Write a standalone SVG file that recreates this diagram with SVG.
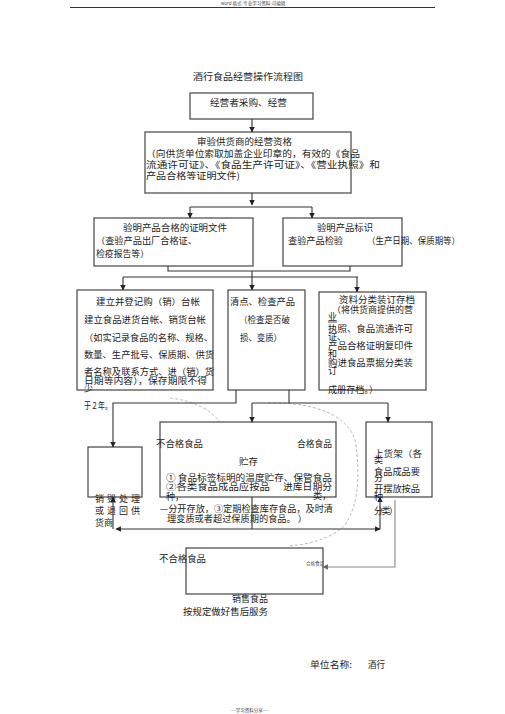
<svg xmlns="http://www.w3.org/2000/svg" width="505" height="714" viewBox="0 0 505 714">
<defs>
<marker id="ah" viewBox="0 0 10 10" refX="9" refY="5" markerWidth="5" markerHeight="5" orient="auto"><path d="M0,0 L10,5 L0,10 z" fill="#222"/></marker>
<marker id="ahg" viewBox="0 0 10 10" refX="9" refY="5" markerWidth="5" markerHeight="5" orient="auto"><path d="M0,0 L10,5 L0,10 z" fill="#666"/></marker>
<style>
text{font-family:"Noto Sans CJK SC","Liberation Sans",sans-serif;font-size:9px;fill:#222}
.box{fill:#fff;stroke:#444;stroke-width:1.2}
.c{fill:none;stroke:#333;stroke-width:1.1}
.g{fill:none;stroke:#888;stroke-width:1.1}
.d{fill:none;stroke:#bbb;stroke-width:1;stroke-dasharray:3,2}
.tiny{font-size:4.5px;fill:#444}
</style>
</defs>
<rect width="505" height="714" fill="#fff"/>
<text class="tiny" x="253" y="5" text-anchor="middle">word 格式-专业学习资料-可编辑</text>
<line x1="70" y1="7.5" x2="435" y2="7.5" stroke="#333" stroke-width="1"/>
<text x="193" y="80" textLength="110" lengthAdjust="spacingAndGlyphs">酒行食品经营操作流程图</text>

<g id="dashes">
<path class="d" d="M170,398 Q205,402 222,424"/>
<path class="d" d="M268,403 C320,402 352,418 356,445 C360,480 358,505 345,525 C330,540 305,545 288,546"/>
</g>

<g id="n1"><rect class="box" x="190" y="93" width="123" height="26"/>
<text x="210" y="106" textLength="77" lengthAdjust="spacingAndGlyphs">经营者采购、经营</text></g>

<g id="n2"><rect class="box" x="145" y="132" width="206" height="61"/>
<text x="197" y="144.5" textLength="95" lengthAdjust="spacingAndGlyphs">审验供货商的经营资格</text>
<text x="146" y="156.5" textLength="214" lengthAdjust="spacingAndGlyphs">（向供货单位索取加盖企业印章的，有效的《食品</text>
<text x="146" y="167.5" textLength="234" lengthAdjust="spacingAndGlyphs">流通许可证》、《食品生产许可证》、《营业执照》和</text>
<text x="146" y="178.5" textLength="94" lengthAdjust="spacingAndGlyphs">产品合格等证明文件)</text></g>

<g id="n3"><rect class="box" x="94" y="218" width="159" height="48"/>
<text x="123" y="230.5" textLength="104" lengthAdjust="spacingAndGlyphs">验明产品合格的证明文件</text>
<text x="96" y="243.5" textLength="101" lengthAdjust="spacingAndGlyphs">（查验产品出厂合格证、</text>
<text x="96" y="256.5" textLength="53" lengthAdjust="spacingAndGlyphs">检疫报告等）</text></g>

<g id="n4"><rect class="box" x="283" y="218" width="119" height="48"/>
<text x="317" y="230.5" textLength="56" lengthAdjust="spacingAndGlyphs">验明产品标识</text>
<text x="288" y="243.5" textLength="55" lengthAdjust="spacingAndGlyphs">查验产品检验</text>
<text x="367" y="243.5" textLength="93" lengthAdjust="spacingAndGlyphs">（生产日期、保质期等）</text></g>

<g id="n5"><rect class="box" x="77" y="290" width="136" height="100"/>
<text x="96" y="304.5" textLength="104" lengthAdjust="spacingAndGlyphs">建立并登记购（销）台帐</text>
<text x="84" y="322.5" textLength="122" lengthAdjust="spacingAndGlyphs">建立食品进货台帐、销货台帐</text>
<text x="84" y="340.5" textLength="129" lengthAdjust="spacingAndGlyphs">（如实记录食品的名称、规格、</text>
<text x="84" y="357.5" textLength="130" lengthAdjust="spacingAndGlyphs">数量、生产批号、保质期、供货</text>
<text x="84" y="374.5" textLength="130" lengthAdjust="spacingAndGlyphs">者名称及联系方式、进（销）货</text>
<text x="84" y="383.5" textLength="123" lengthAdjust="spacingAndGlyphs">日期等内容），保存期限不得</text>
<text x="84" y="391.5">少</text>
<text x="84" y="408.5" textLength="28" lengthAdjust="spacingAndGlyphs">于２年。</text></g>

<g id="n6"><rect class="box" x="228" y="290" width="77" height="100"/>
<text x="230" y="304.5" textLength="65" lengthAdjust="spacingAndGlyphs">清点、检查产品</text>
<text x="239" y="322.5" textLength="51" lengthAdjust="spacingAndGlyphs">（检查是否破</text>
<text x="240" y="340.5" textLength="42" lengthAdjust="spacingAndGlyphs">损、变质）</text></g>

<g id="n7"><rect class="box" x="319" y="292" width="107" height="98"/>
<text x="339" y="302.5" textLength="76" lengthAdjust="spacingAndGlyphs">资料分类装订存档</text>
<text x="332" y="312.5" textLength="81" lengthAdjust="spacingAndGlyphs">（将供货商提供的营</text>
<text x="328" y="320">业</text>
<line x1="328" y1="322" x2="337" y2="322" stroke="#222" stroke-width="0.8"/>
<text x="328" y="331.5" textLength="85" lengthAdjust="spacingAndGlyphs">执照、食品流通许可</text>
<text x="328" y="340">证、</text>
<text x="328" y="348.5" textLength="85" lengthAdjust="spacingAndGlyphs">产品合格证明复印件</text>
<text x="328" y="356.5">和</text>
<text x="328" y="366" textLength="85" lengthAdjust="spacingAndGlyphs">购进食品票据分类装</text>
<text x="328" y="373.5">订</text>
<text x="328" y="393" textLength="50" lengthAdjust="spacingAndGlyphs">成册存档。）</text></g>

<g id="n8"><rect class="box" x="88" y="447" width="54" height="50"/>
<text x="95" y="501.5" textLength="45" lengthAdjust="spacing">销毁处理</text>
<text x="95" y="513.5" textLength="45" lengthAdjust="spacing">或退回供</text>
<text x="95" y="525.5">货商</text></g>

<g id="n9"><rect class="box" x="160" y="422" width="176" height="75"/>
<text x="156" y="446.5" textLength="47" lengthAdjust="spacingAndGlyphs">不合格食品</text>
<text x="297" y="446.5" textLength="35" lengthAdjust="spacingAndGlyphs">合格食品</text>
<text x="239" y="464.5" textLength="19" lengthAdjust="spacingAndGlyphs">贮存</text>
<text x="166" y="480.5" textLength="166" lengthAdjust="spacingAndGlyphs">① 食品标签标明的温度贮存、保管食品</text>
<text x="166" y="490" textLength="104" lengthAdjust="spacingAndGlyphs">②各类食品成品应按品</text>
<text x="283" y="490" textLength="49" lengthAdjust="spacingAndGlyphs">进库日期分</text>
<text x="166" y="500">种，</text>
<text x="313" y="499">类，</text>
<text x="160" y="511.5" textLength="173" lengthAdjust="spacingAndGlyphs">—分开存放，③定期检查库存食品，及时清</text>
<text x="167" y="521.5" textLength="140" lengthAdjust="spacingAndGlyphs">理变质或者超过保质期的食品。 ）</text></g>

<g id="n10"><rect class="box" x="366" y="422" width="66" height="75"/>
<text x="374" y="456.5" textLength="48" lengthAdjust="spacingAndGlyphs">上货架（各</text>
<text x="374" y="463">类</text>
<text x="374" y="475" textLength="46" lengthAdjust="spacingAndGlyphs">食品成品要</text>
<text x="374" y="481">分</text>
<text x="374" y="492" textLength="46" lengthAdjust="spacingAndGlyphs">开摆放按品</text>
<text x="374" y="500">种</text>
<text x="374" y="514" textLength="24" lengthAdjust="spacing">分类）</text></g>

<g id="n11"><rect class="box" x="186" y="548" width="137" height="46"/>
<text x="159" y="562" textLength="47" lengthAdjust="spacingAndGlyphs">不合格食品</text>
<text class="tiny" x="306" y="565">合格食品</text>
<text x="232" y="601.5" textLength="36" lengthAdjust="spacingAndGlyphs">销售食品</text>
<text x="183" y="614.5" textLength="85" lengthAdjust="spacingAndGlyphs">按规定做好售后服务</text></g>

<g id="connectors">
<path class="c" d="M252,119 V132" marker-end="url(#ah)"/>
<path class="c" d="M252,193 V205" marker-end="url(#ah)"/>
<path class="c" d="M190,207 H312"/>
<path class="c" d="M190,207 V218" marker-end="url(#ah)"/>
<path class="c" d="M312,207 V218" marker-end="url(#ah)"/>
<path class="c" d="M168,266 V271 H350 V266"/>
<path class="c" d="M252,271 V277"/>
<path class="c" d="M123,277 H358"/>
<path class="c" d="M123,277 V290" marker-end="url(#ah)"/>
<path class="c" d="M252,277 V290" marker-end="url(#ah)"/>
<path class="c" d="M357,277 V292" marker-end="url(#ah)"/>
<path class="c" d="M236,390 V403 H113 V447" marker-end="url(#ah)"/>
<path class="c" d="M289,390 V403"/>
<path class="c" d="M252,403 H388"/>
<path class="c" d="M252,403 V422" marker-end="url(#ah)"/>
<path class="c" d="M388,403 V422" marker-end="url(#ah)"/>
<path class="c" d="M252,497 V529"/>
<path class="c" d="M252,529 H116" marker-end="url(#ah)"/>
<path class="c" d="M252,529 H380" marker-end="url(#ah)"/>
<path class="c" d="M113,529 V497" marker-end="url(#ah)"/>
<path class="c" d="M380,529 V497" marker-end="url(#ah)"/>
<path class="g" d="M395,500 V567 H323" marker-end="url(#ahg)"/>
</g>

<text x="310" y="668" textLength="42" lengthAdjust="spacingAndGlyphs">单位名称:</text>
<text x="368" y="668" textLength="17" lengthAdjust="spacingAndGlyphs">酒行</text>
<text class="tiny" x="250" y="712" text-anchor="middle">---学习资料分享----</text>
</svg>
